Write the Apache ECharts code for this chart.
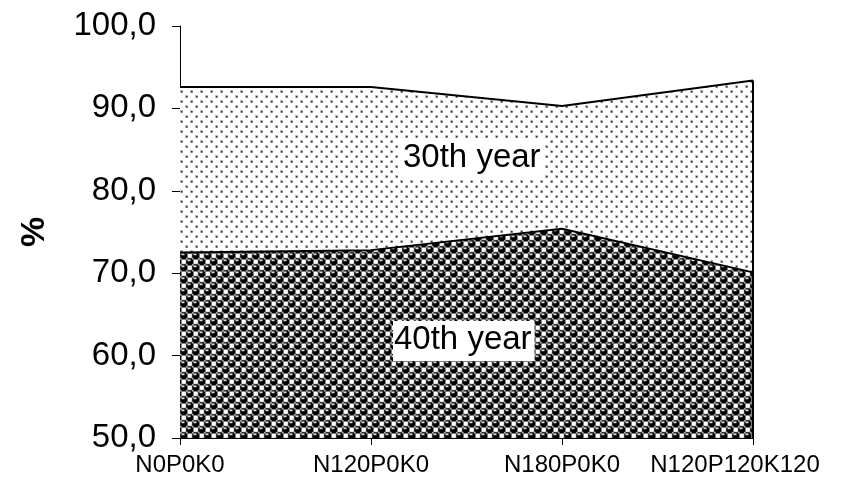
<!DOCTYPE html>
<html><head><meta charset="utf-8">
<script src="https://cdn.jsdelivr.net/npm/echarts@6/dist/echarts.min.js"></script>
<style>html,body{margin:0;padding:0;background:#fff}#c{width:842px;height:489px}</style>
</head><body><div id="c"></div>
<script>
const categories = ['N0P0K0', 'N120P0K0', 'N180P0K0', 'N120P120K120'];
const year30 = [92.6, 92.6, 90.3, 93.4];
const year40 = [72.5, 72.8, 75.4, 70.1];
const yMin = 50, yMax = 100, yStep = 10;
const seriesNames = ['30th year', '40th year'];

function bitmapPattern(rows, fg, bg, size) {
  const src = document.createElement('canvas'); src.width = 24; src.height = 24;
  const s = src.getContext('2d');
  s.fillStyle = bg; s.fillRect(0, 0, 24, 24);
  s.fillStyle = fg;
  for (let ty = 0; ty < 3; ty++) for (let tx = 0; tx < 3; tx++)
    rows.forEach((r, y) => { for (let x = 0; x < 8; x++) if (r & (0x80 >> x)) s.fillRect(tx * 8 + x, ty * 8 + y, 1, 1); });
  const big = document.createElement('canvas'); big.width = size * 3; big.height = size * 3;
  const b = big.getContext('2d'); b.imageSmoothingEnabled = true; b.drawImage(src, 0, 0, size * 3, size * 3);
  const out = document.createElement('canvas'); out.width = size; out.height = size;
  out.getContext('2d').drawImage(big, size, size, size, size, 0, 0, size, size);
  return out;
}
function dotPattern(size) {
  const c = document.createElement('canvas'); c.width = size; c.height = size;
  const g = c.getContext('2d');
  g.fillStyle = '#fff'; g.fillRect(0, 0, size, size);
  const h = size / 2;
  [[0, 0], [h, h]].forEach(([x, y]) => {
    g.fillStyle = '#bbb'; g.fillRect(x, y, 3, 3);
    g.fillStyle = '#333'; g.fillRect(x + 1, y + 1, 1.5, 1.5);
  });
  return c;
}
const sphere = bitmapPattern([0x77, 0x98, 0xF8, 0xF8, 0x77, 0x89, 0x8F, 0x8F], '#000', '#fff', 12);
const dots = dotPattern(10);

const chart = echarts.init(document.getElementById('c'), null, { renderer: 'canvas' });
const FONT = '"Liberation Sans", Arial, sans-serif';
chart.setOption({
  animation: false,
  backgroundColor: '#fff',
  grid: { left: 180, right: 89, top: 26, bottom: 51, containLabel: false },
  xAxis: {
    type: 'category', data: categories, boundaryGap: false,
    axisLine: { lineStyle: { color: '#000', width: 1 } },
    axisTick: { show: true, length: 7, interval: 0, lineStyle: { color: '#000' } },
    axisLabel: {
      interval: 0, color: '#000', fontFamily: FONT, fontSize: 24, margin: 15,
      formatter: (v, i) => i === categories.length - 1 ? '{last|' + v + '}' : v,
      rich: { last: { padding: [0, 36, 0, 0], fontFamily: FONT, fontSize: 24, color: '#000' } }
    },
    splitLine: { show: false }
  },
  yAxis: {
    type: 'value', min: yMin, max: yMax, interval: yStep,
    name: '%', nameLocation: 'middle', nameRotate: 90, nameGap: 128,
    nameTextStyle: { color: '#000', fontFamily: FONT, fontSize: 34, fontWeight: 'bold' },
    axisLine: { show: true, lineStyle: { color: '#000', width: 1 } },
    axisTick: { show: true, length: 8, lineStyle: { color: '#000' } },
    axisLabel: { color: '#000', fontFamily: FONT, fontSize: 33, margin: 24, formatter: v => v.toFixed(1).replace('.', ',') },
    splitLine: { show: false }
  },
  series: [
    {
      name: seriesNames[0], type: 'line', data: year30, symbol: 'none',
      lineStyle: { color: '#000', width: 2 },
      areaStyle: { color: { image: dots, repeat: 'repeat' }, opacity: 1 }
    },
    {
      name: seriesNames[1], type: 'line', data: year40, symbol: 'none',
      lineStyle: { color: '#000', width: 2 },
      areaStyle: { color: { image: sphere, repeat: 'repeat' }, opacity: 1 },
      markLine: {
        silent: true, symbol: 'none', label: { show: false },
        lineStyle: { color: '#000', width: 2, type: 'solid' },
        data: [[{ coord: [categories[3], yMin] }, { coord: [categories[3], year30[3]] }]]
      }
    }
  ],
  graphic: [
    { type: 'text', left: 400, top: 139, z: 100, style: { text: seriesNames[0], font: '33px "Liberation Sans", Arial, sans-serif', fill: '#000', backgroundColor: '#fff', padding: [2, 4, 4, 3] } },
    { type: 'text', left: 393, top: 321, z: 100, style: { text: seriesNames[1], font: '33px "Liberation Sans", Arial, sans-serif', fill: '#000', backgroundColor: '#fff', padding: [2, 3, 5, 1] } }
  ]
});
</script></body></html>
